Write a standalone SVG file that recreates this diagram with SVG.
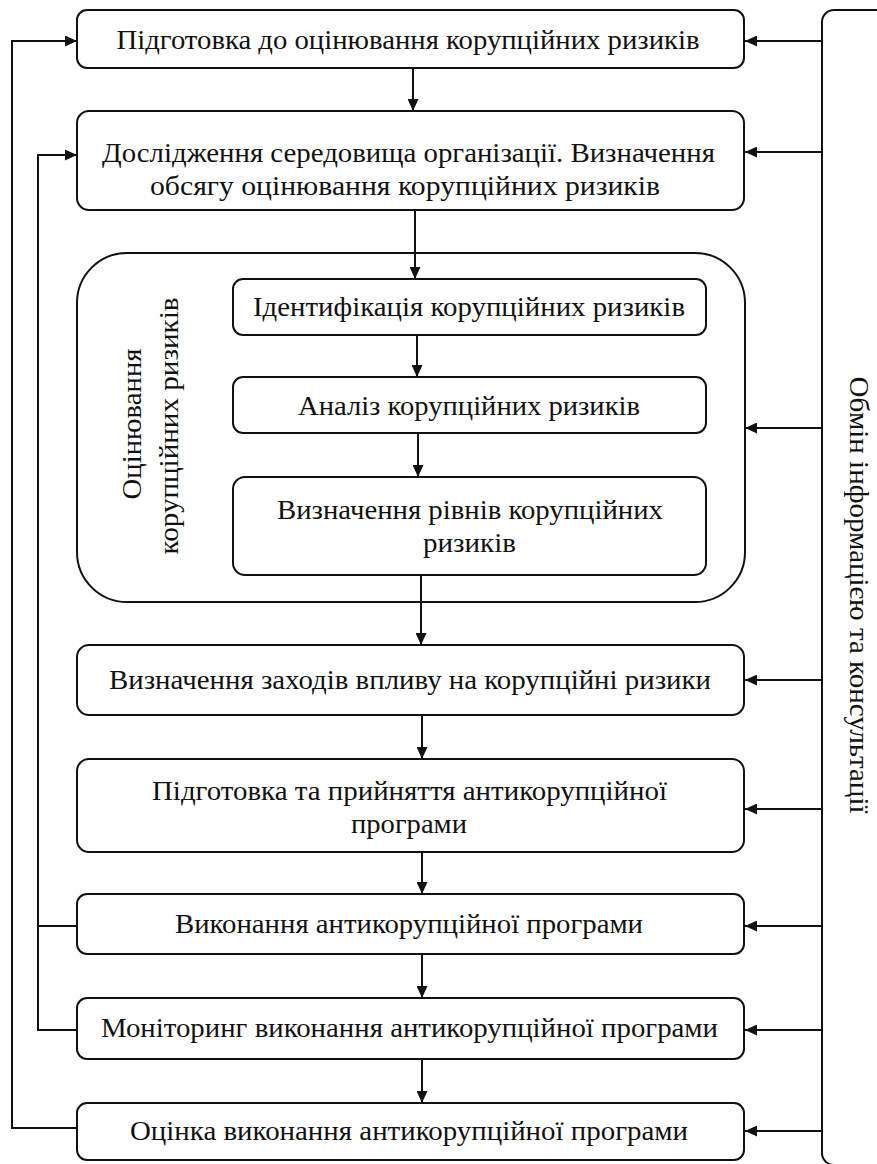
<svg xmlns="http://www.w3.org/2000/svg" width="877" height="1164" viewBox="0 0 877 1164">
<defs>
<style>
.box{fill:#ffffff;stroke:#111111;stroke-width:2}
.t{font-family:"Liberation Serif","Times New Roman",serif;font-size:27px;fill:#111111;text-anchor:middle}
.c{fill:none;stroke:#111111;stroke-width:2}
</style>
<marker id="ah" viewBox="0 0 12 11" refX="12" refY="5.5" markerWidth="12" markerHeight="11" markerUnits="userSpaceOnUse" orient="auto">
<path d="M0,0 L12,5.5 L0,11 Z" fill="#111111"/>
</marker>
</defs>
<rect width="877" height="1164" fill="#ffffff"/>

<g id="connectors">
<line class="c" x1="413" y1="68" x2="413" y2="111" marker-end="url(#ah)"/>
<line class="c" x1="415" y1="210" x2="415" y2="279" marker-end="url(#ah)"/>
<line class="c" x1="417" y1="335" x2="417" y2="377" marker-end="url(#ah)"/>
<line class="c" x1="418" y1="433" x2="418" y2="477" marker-end="url(#ah)"/>
<line class="c" x1="421" y1="575" x2="421" y2="645" marker-end="url(#ah)"/>
<line class="c" x1="422" y1="715" x2="422" y2="759" marker-end="url(#ah)"/>
<line class="c" x1="422" y1="852" x2="422" y2="894" marker-end="url(#ah)"/>
<line class="c" x1="422" y1="954" x2="422" y2="998" marker-end="url(#ah)"/>
<line class="c" x1="422" y1="1059" x2="422" y2="1103" marker-end="url(#ah)"/>
<polyline class="c" points="77,1128 12,1128 12,41 77,41" marker-end="url(#ah)"/>
<polyline class="c" points="77,1030 38,1030 38,155 77,155" marker-end="url(#ah)"/>
<line class="c" x1="77" y1="926" x2="38" y2="926"/>
<line class="c" x1="822" y1="41" x2="745" y2="41" marker-end="url(#ah)"/>
<line class="c" x1="822" y1="152" x2="745" y2="152" marker-end="url(#ah)"/>
<line class="c" x1="822" y1="428" x2="745" y2="428" marker-end="url(#ah)"/>
<line class="c" x1="822" y1="680" x2="745" y2="680" marker-end="url(#ah)"/>
<line class="c" x1="822" y1="809" x2="745" y2="809" marker-end="url(#ah)"/>
<line class="c" x1="822" y1="926" x2="745" y2="926" marker-end="url(#ah)"/>
<line class="c" x1="822" y1="1030" x2="745" y2="1030" marker-end="url(#ah)"/>
<line class="c" x1="822" y1="1131" x2="745" y2="1131" marker-end="url(#ah)"/>
</g>

<g id="container">
<rect class="box" x="77" y="253" width="668" height="349" rx="50" ry="50" style="fill:none"/>
<text class="t" transform="translate(141,424) rotate(-90)" textLength="151" lengthAdjust="spacingAndGlyphs">Оцінювання</text>
<text class="t" transform="translate(178,426) rotate(-90)" textLength="257" lengthAdjust="spacingAndGlyphs">корупційних ризиків</text>
</g>

<g id="n1">
<rect class="box" x="77" y="10" width="667" height="58" rx="10"/>
<text class="t" x="408" y="49" textLength="583" lengthAdjust="spacingAndGlyphs">Підготовка до оцінювання корупційних ризиків</text>
</g>
<g id="n2">
<rect class="box" x="77" y="111" width="667" height="99" rx="12"/>
<text class="t" x="408.5" y="162" textLength="613" lengthAdjust="spacingAndGlyphs">Дослідження середовища організації. Визначення</text>
<text class="t" x="405" y="195" textLength="510" lengthAdjust="spacingAndGlyphs">обсягу оцінювання корупційних ризиків</text>
</g>
<g id="n3">
<rect class="box" x="233" y="279" width="473" height="56" rx="10"/>
<text class="t" x="469" y="316" textLength="432" lengthAdjust="spacingAndGlyphs">Ідентифікація корупційних ризиків</text>
</g>
<g id="n4">
<rect class="box" x="233" y="377" width="473" height="56" rx="10"/>
<text class="t" x="469" y="415" textLength="342" lengthAdjust="spacingAndGlyphs">Аналіз корупційних ризиків</text>
</g>
<g id="n5">
<rect class="box" x="233" y="477" width="473" height="98" rx="12"/>
<text class="t" x="470" y="519" textLength="386" lengthAdjust="spacingAndGlyphs">Визначення рівнів корупційних</text>
<text class="t" x="469.5" y="552" textLength="93" lengthAdjust="spacingAndGlyphs">ризиків</text>
</g>
<g id="n6">
<rect class="box" x="77" y="645" width="667" height="70" rx="12"/>
<text class="t" x="410" y="689" textLength="602" lengthAdjust="spacingAndGlyphs">Визначення заходів впливу на корупційні ризики</text>
</g>
<g id="n7">
<rect class="box" x="77" y="759" width="667" height="93" rx="12"/>
<text class="t" x="409.5" y="800" textLength="515" lengthAdjust="spacingAndGlyphs">Підготовка та прийняття антикорупційної</text>
<text class="t" x="409" y="833" textLength="116" lengthAdjust="spacingAndGlyphs">програми</text>
</g>
<g id="n8">
<rect class="box" x="77" y="894" width="667" height="60" rx="10"/>
<text class="t" x="409" y="933" textLength="468" lengthAdjust="spacingAndGlyphs">Виконання антикорупційної програми</text>
</g>
<g id="n9">
<rect class="box" x="77" y="998" width="667" height="61" rx="10"/>
<text class="t" x="409.5" y="1037" textLength="617" lengthAdjust="spacingAndGlyphs">Моніторинг виконання антикорупційної програми</text>
</g>
<g id="n10">
<rect class="box" x="77" y="1103" width="667" height="57" rx="10"/>
<text class="t" x="409" y="1140" textLength="558" lengthAdjust="spacingAndGlyphs">Оцінка виконання антикорупційної програми</text>
</g>
<g id="n11">
<rect class="box" x="822" y="10" width="80" height="1155" rx="12"/>
<text class="t" transform="translate(850,595) rotate(90)" textLength="437" lengthAdjust="spacingAndGlyphs">Обмін інформацією та консультації</text>
</g>
</svg>
